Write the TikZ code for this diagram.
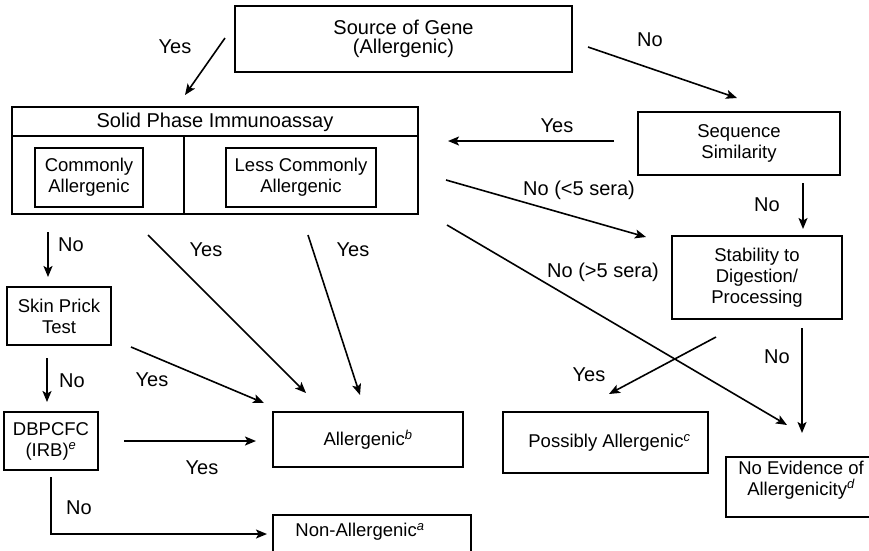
\documentclass[tikz,border=0pt]{standalone}
\usepackage{fontspec}
\setmainfont{Liberation Sans}
\usetikzlibrary{arrows.meta}
\tikzset{
  box/.style={draw, line width=1.2pt, inner sep=0pt, align=center, font=\fontsize{18.5}{21}\selectfont},
  bigtxt/.style={inner sep=0pt, align=center, font=\fontsize{20}{17}\selectfont},
  lbl/.style={inner sep=0pt, font=\fontsize{20}{24}\selectfont},
  arr/.style={-{Stealth[length=11pt,width=9pt,inset=2.5pt]}, line width=1.6pt},
  frame/.style={line width=1.2pt},
}
\begin{document}
\begin{tikzpicture}[x=1pt,y=-1pt]
\useasboundingbox (0,0) rectangle (869,550);
\clip (0,0) rectangle (869,550);
% boxes
\node[box, minimum width=337pt, minimum height=66pt, font=\fontsize{20}{18.5}\selectfont] (src) at (403.5,39) {Source of Gene\\(Allergenic)};
\node[draw, frame, inner sep=0pt, minimum width=406pt, minimum height=107pt] (spi) at (215,160.5) {};
\node[bigtxt] (spititle) at (215,122) {Solid Phase Immunoassay};
\draw[frame] (spi.west |- 0,136) -- (spi.east |- 0,136);
\draw[frame] (184,136) -- (184,214);
\node[box, minimum width=108pt, minimum height=59pt] (com) at (89,177.5) {Commonly\\Allergenic};
\node[box, minimum width=150pt, minimum height=59pt] (less) at (301,177.5) {Less Commonly\\Allergenic};
\node[box, minimum width=202pt, minimum height=63pt] (seq) at (739,143.5) {Sequence\\Similarity};
\node[box, minimum width=170pt, minimum height=83pt] (stab) at (757,277.5) {Stability to\\Digestion/\\Processing};
\node[box, minimum width=205pt, minimum height=61pt] (poss) at (605.5,442.5) {\hspace*{8pt}Possibly Allergenic\textsuperscript{\itshape c}};
\node[box, minimum width=150pt, minimum height=60pt] (noev) at (801,487) {No Evidence of\\Allergenicity\textsuperscript{\itshape d}\\[-3pt]};
\node[box, minimum width=190pt, minimum height=55pt] (aller) at (368,439.5) {Allergenic\textsuperscript{\itshape b}};
\node[box, minimum width=198pt, minimum height=50pt] (nonal) at (372,540) {};
\node[inner sep=0pt, font=\fontsize{18.5}{21}\selectfont] (nonaltxt) at (360,532) {Non-Allergenic\textsuperscript{\itshape a}};
\node[box, minimum width=104pt, minimum height=58pt] (skin) at (59,316) {Skin Prick\\Test};
\node[box, minimum width=94pt, minimum height=58pt] (dbp) at (51,441) {DBPCFC\\(IRB)\textsuperscript{\itshape e}};
% arrow end points
\coordinate (a1s) at (225,38);  \coordinate (a1e) at (185,95);
\coordinate (a2s) at (588,47);  \coordinate (a2e) at (737,98);
\coordinate (a3s) at (614,141); \coordinate (a3e) at (448,141);
\coordinate (a4s) at (446,180); \coordinate (a4e) at (646,237);
\coordinate (a5s) at (803,183); \coordinate (a5e) at (803,229);
\coordinate (a6s) at (447,225); \coordinate (a6e) at (787,425);
\coordinate (a7s) at (716,337); \coordinate (a7e) at (609,394);
\coordinate (a8s) at (802,328); \coordinate (a8e) at (802,433);
\coordinate (a9s) at (48,232);  \coordinate (a9e) at (48,277);
\coordinate (a10s) at (148,235); \coordinate (a10e) at (306,393);
\coordinate (a11s) at (308,235); \coordinate (a11e) at (360,395);
\coordinate (a12s) at (131,347); \coordinate (a12e) at (264,403);
\coordinate (a13s) at (47,358);  \coordinate (a13e) at (47,402);
\coordinate (a14s) at (124,441); \coordinate (a14e) at (256,441);
\coordinate (a15s) at (51,477);  \coordinate (a15e) at (267,534);
% arrows
\draw[arr] (a1s) -- (a1e);
\draw[arr] (a2s) -- (a2e);
\draw[arr] (a3s) -- (a3e);
\draw[arr] (a4s) -- (a4e);
\draw[arr] (a5s) -- (a5e);
\draw[arr] (a6s) -- (a6e);
\draw[arr] (a7s) -- (a7e);
\draw[arr] (a8s) -- (a8e);
\draw[arr] (a9s) -- (a9e);
\draw[arr] (a10s) -- (a10e);
\draw[arr] (a11s) -- (a11e);
\draw[arr] (a12s) -- (a12e);
\draw[arr] (a13s) -- (a13e);
\draw[arr] (a14s) -- (a14e);
\draw[arr] (a15s) |- (a15e);
% labels
\node[lbl] (l1) at (175,47) {Yes};
\node[lbl] (l2) at (650,40) {No};
\node[lbl] (l3) at (557,126) {Yes};
\node[lbl] (l4) at (579,190) {No (<5 sera)};
\node[lbl] (l5) at (767,205) {No};
\node[lbl] (l6) at (603,272) {No (>5 sera)};
\node[lbl] (l7) at (589,375) {Yes};
\node[lbl] (l8) at (777,357) {No};
\node[lbl] (l9) at (71,245) {No};
\node[lbl] (l10) at (206,250) {Yes};
\node[lbl] (l11) at (353,250) {Yes};
\node[lbl] (l12) at (152,380) {Yes};
\node[lbl] (l13) at (72,381) {No};
\node[lbl] (l14) at (202,468) {Yes};
\node[lbl] (l15) at (79,508) {No};
\end{tikzpicture}
\end{document}
